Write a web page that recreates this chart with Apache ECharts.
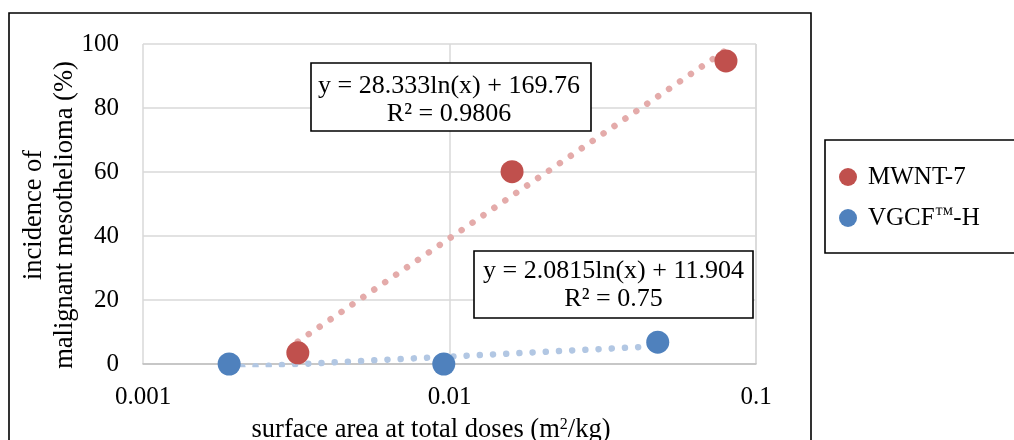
<!DOCTYPE html>
<html>
<head>
<meta charset="utf-8">
<script src="https://cdn.jsdelivr.net/npm/echarts@6/dist/echarts.min.js"></script>
<style>html,body{margin:0;padding:0;background:#fff;}#c{width:1014px;height:440px;}</style>
</head>
<body>
<div id="c"></div>
<script>
const seriesNames = ['MWNT-7', 'VGCF™-H'];
const mwntX = [0.0032, 0.0160, 0.0798];
const mwntY = [3.5, 60.1, 94.7];
const vgcfX = [0.00191, 0.00958, 0.0478];
const vgcfY = [0, 0, 6.8];
const mwntTrendX = [0.0032, 0.0798];
const mwntTrendY = [7.0, 98.1];
const vgcfTrendX = [0.00191, 0.0478];
const vgcfTrendY = [-1.13, 5.57];
const xTickLabels = {0.001: '0.001', 0.01: '0.01', 0.1: '0.1'};
const mwntEq = ['y = 28.333ln(x) + 169.76', 'R² = 0.9806'];
const vgcfEq = ['y = 2.0815ln(x) + 11.904', 'R² = 0.75'];

const FONT = '"Liberation Serif", "Times New Roman", serif';
const pairs = (xs, ys) => xs.map((x, i) => [x, ys[i]]);

const chart = echarts.init(document.getElementById('c'), null, {renderer: 'canvas'});
const dotLine = (color) => ({color: color, width: 6.5, type: [0.01, 13.2], cap: 'round', opacity: 1});

chart.setOption({
  animation: false,
  backgroundColor: '#fff',
  textStyle: {fontFamily: FONT},
  grid: {left: 143, top: 44, right: 258, bottom: 76, containLabel: false},
  xAxis: {
    type: 'log', logBase: 10, min: 0.001, max: 0.1,
    axisLine: {show: true, onZero: false, lineStyle: {color: '#bfbfbf', width: 1.5}},
    axisTick: {show: false},
    splitLine: {show: true, lineStyle: {color: '#d9d9d9', width: 1.5}},
    minorSplitLine: {show: false},
    axisLabel: {
      fontFamily: FONT, fontSize: 25, color: '#000', margin: 21,
      formatter: (v) => xTickLabels[v] !== undefined ? xTickLabels[v] : String(v)
    }
  },
  yAxis: {
    type: 'value', min: 0, max: 100, interval: 20,
    axisLine: {show: false},
    axisTick: {show: false},
    splitLine: {show: true, lineStyle: {color: '#d9d9d9', width: 1.5}},
    axisLabel: {fontFamily: FONT, fontSize: 25, color: '#000', margin: 24}
  },
  legend: {
    orient: 'vertical', left: 839, top: 164, padding: 0,
    itemWidth: 30, itemHeight: 18, itemGap: 15, icon: 'circle',
    formatter: (name) => name.replace('™', '{tm|™}'),
    textStyle: {fontFamily: FONT, fontSize: 25, color: '#000', lineHeight: 26,
      rich: {tm: {fontFamily: FONT, fontSize: 19, color: '#000', lineHeight: 26, padding: [0, 0, 5, 0]}}},
    data: seriesNames
  },
  series: [
    {
      name: 'mwntTrend', type: 'line', data: pairs(mwntTrendX, mwntTrendY),
      symbol: 'none', clip: true, lineStyle: dotLine('#e4abaa'), z: 2, silent: true
    },
    {
      name: 'vgcfTrend', type: 'line', data: pairs(vgcfTrendX, vgcfTrendY),
      symbol: 'none', clip: true, lineStyle: dotLine('#b2c7e3'), z: 2, silent: true
    },
    {
      name: seriesNames[0], type: 'scatter', data: pairs(mwntX, mwntY),
      symbol: 'circle', symbolSize: 23, itemStyle: {color: '#c0504d', opacity: 1}, z: 5, clip: false
    },
    {
      name: seriesNames[1], type: 'scatter', data: pairs(vgcfX, vgcfY),
      symbol: 'circle', symbolSize: 23, itemStyle: {color: '#4f81bd', opacity: 1}, z: 5, clip: false
    }
  ],
  graphic: [
    {type: 'rect', z: 0, silent: true, shape: {x: 9, y: 13, width: 802, height: 460},
     style: {fill: 'none', stroke: '#000', lineWidth: 1.6}},
    {type: 'rect', z: 0, silent: true, shape: {x: 825, y: 140, width: 200, height: 113},
     style: {fill: '#fff', stroke: '#000', lineWidth: 1.6}},
    {type: 'rect', z: 10, silent: true, shape: {x: 311, y: 63, width: 280, height: 68},
     style: {fill: '#fff', stroke: '#000', lineWidth: 1.6}},
    {type: 'text', z: 11, silent: true, x: 449, y: 100,
     style: {text: mwntEq.join('\n'), font: '26px ' + FONT, fill: '#000', align: 'center', verticalAlign: 'middle', lineHeight: 28.5}},
    {type: 'rect', z: 10, silent: true, shape: {x: 474, y: 251, width: 279, height: 67},
     style: {fill: '#fff', stroke: '#000', lineWidth: 1.6}},
    {type: 'text', z: 11, silent: true, x: 613.5, y: 285,
     style: {text: vgcfEq.join('\n'), font: '26px ' + FONT, fill: '#000', align: 'center', verticalAlign: 'middle', lineHeight: 28.5}},
    {type: 'text', z: 11, silent: true, x: 50, y: 215, rotation: Math.PI / 2,
     style: {text: 'incidence of\nmalignant mesothelioma (%)', font: '26.5px ' + FONT, fill: '#000', align: 'center', verticalAlign: 'middle', lineHeight: 31}},
    {type: 'text', z: 11, silent: true, x: 431, y: 430,
     style: {text: 'surface area at total doses (m{sup|2}/kg)', font: '26.5px ' + FONT, fill: '#000', align: 'center', verticalAlign: 'middle',
       rich: {sup: {fontSize: 16, fontFamily: FONT, verticalAlign: 'top', lineHeight: 26, padding: [0, 0, 10, 0]}}}}
  ]
});
</script>
</body>
</html>
